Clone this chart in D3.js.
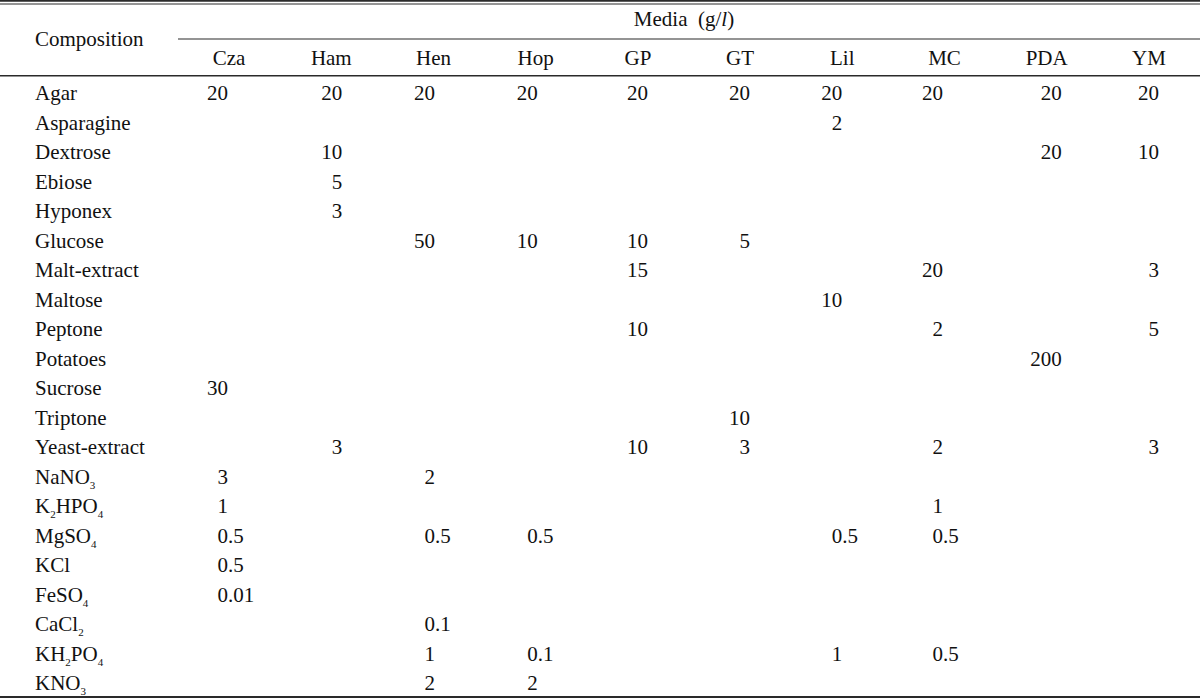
<!DOCTYPE html>
<html>
<head>
<meta charset="utf-8">
<script src="https://cdn.jsdelivr.net/npm/d3@7"></script>
<style>
  body { margin: 0; background: #fff; }
  svg text { font-family: "Liberation Serif", "Times New Roman", serif; fill: #111; }
</style>
</head>
<body>
<div id="table"></div>
<script>
var media = ["Cza", "Ham", "Hen", "Hop", "GP", "GT", "Lil", "MC", "PDA", "YM"];

var components = [
  "Agar", "Asparagine", "Dextrose", "Ebiose", "Hyponex", "Glucose",
  "Malt-extract", "Maltose", "Peptone", "Potatoes", "Sucrose", "Triptone",
  "Yeast-extract", "NaNO3", "K2HPO4", "MgSO4", "KCl", "FeSO4", "CaCl2",
  "KH2PO4", "KNO3"
];

// g/l per medium, one entry per component (null = not used)
var cza = [20, null, null, null, null, null, null, null, null, null, 30, null, null, 3, 1, 0.5, 0.5, 0.01, null, null, null];
var ham = [20, null, 10, 5, 3, null, null, null, null, null, null, null, 3, null, null, null, null, null, null, null, null];
var hen = [20, null, null, null, null, 50, null, null, null, null, null, null, null, 2, null, 0.5, null, null, 0.1, 1, 2];
var hop = [20, null, null, null, null, 10, null, null, null, null, null, null, null, null, null, 0.5, null, null, null, 0.1, 2];
var gp  = [20, null, null, null, null, 10, 15, null, 10, null, null, null, 10, null, null, null, null, null, null, null, null];
var gt  = [20, null, null, null, null, 5, null, null, null, null, null, 10, 3, null, null, null, null, null, null, null, null];
var lil = [20, 2, null, null, null, null, null, 10, null, null, null, null, null, null, null, 0.5, null, null, null, 1, null];
var mc  = [20, null, null, null, null, null, 20, null, 2, null, null, null, 2, null, 1, 0.5, null, null, null, 0.5, null];
var pda = [20, null, 20, null, null, null, null, null, null, 200, null, null, null, null, null, null, null, null, null, null, null];
var ym  = [20, null, 10, null, null, null, 3, null, 5, null, null, null, 3, null, null, null, null, null, null, null, null];

var values = [cza, ham, hen, hop, gp, gt, lil, mc, pda, ym];

// layout
var width = 1200, height = 699;
var fontSize = 21;
var decimalNudge = [-1, 11, 1.5, 2, 10, 10, 0, -1.5, 15, 10];

var svg = d3.select("#table").append("svg")
  .attr("width", width)
  .attr("height", height);

var x = d3.scaleBand()
  .domain(media)
  .range([178, width]);

var y = d3.scalePoint()
  .domain(components)
  .range([100, 690]);

function rule(y0, x0, x1, w) {
  svg.append("line")
    .attr("x1", x0).attr("x2", x1)
    .attr("y1", y0).attr("y2", y0)
    .attr("stroke", "#2a2a2a")
    .attr("stroke-width", w);
}

rule(0.9, 0, width, 1.8);
rule(4, 0, width, 1.2);
rule(39, 178, width, 1.2);
rule(75.8, 0, width, 1.6);
rule(697, 0, width, 1.8);

// header
svg.append("text")
  .attr("x", 35)
  .attr("y", 46)
  .attr("font-size", fontSize)
  .text("Composition");

var mediaTitle = svg.append("text")
  .attr("x", 684)
  .attr("y", 26)
  .attr("text-anchor", "middle")
  .attr("font-size", fontSize)
  .attr("xml:space", "preserve");
mediaTitle.append("tspan").text("Media  (g/");
mediaTitle.append("tspan").attr("font-style", "italic").text("l");
mediaTitle.append("tspan").text(")");

svg.selectAll(".col-label")
  .data(media)
  .enter()
  .append("text")
  .attr("class", "col-label")
  .attr("x", function(d) { return x(d) + x.bandwidth() / 2; })
  .attr("y", 65)
  .attr("text-anchor", "middle")
  .attr("font-size", fontSize)
  .text(function(d) { return d; });

// row labels, digits in formulas set as subscripts
var rowLabels = svg.selectAll(".row-label")
  .data(components)
  .enter()
  .append("text")
  .attr("class", "row-label")
  .attr("x", 35)
  .attr("y", function(d) { return y(d); })
  .attr("font-size", fontSize);

rowLabels.each(function(d) {
  var el = d3.select(this);
  var parts = d.match(/[0-9]+|[^0-9]+/g);
  var low = false;
  parts.forEach(function(p) {
    var isSub = /^[0-9]+$/.test(p);
    var t = el.append("tspan").text(p);
    if (isSub) {
      t.attr("font-size", 11).attr("dy", low ? 0 : 5);
      low = true;
    } else if (low) {
      t.attr("dy", -5);
      low = false;
    }
  });
});

// cells, aligned on the decimal point
var cells = [];
values.forEach(function(col, ci) {
  col.forEach(function(v, ri) {
    if (v !== null) cells.push({ medium: media[ci], ci: ci, comp: components[ri], v: v });
  });
});

function alignX(d) {
  return x(d.medium) + x.bandwidth() / 2 + decimalNudge[d.ci];
}

var cellG = svg.selectAll(".cell")
  .data(cells)
  .enter()
  .append("g")
  .attr("class", "cell");

cellG.append("text")
  .attr("x", alignX)
  .attr("y", function(d) { return y(d.comp); })
  .attr("text-anchor", "end")
  .attr("font-size", fontSize)
  .text(function(d) { return String(d.v).split(".")[0]; });

cellG.filter(function(d) { return String(d.v).indexOf(".") >= 0; })
  .append("text")
  .attr("x", alignX)
  .attr("y", function(d) { return y(d.comp); })
  .attr("font-size", fontSize)
  .text(function(d) { return "." + String(d.v).split(".")[1]; });
</script>
</body>
</html>
